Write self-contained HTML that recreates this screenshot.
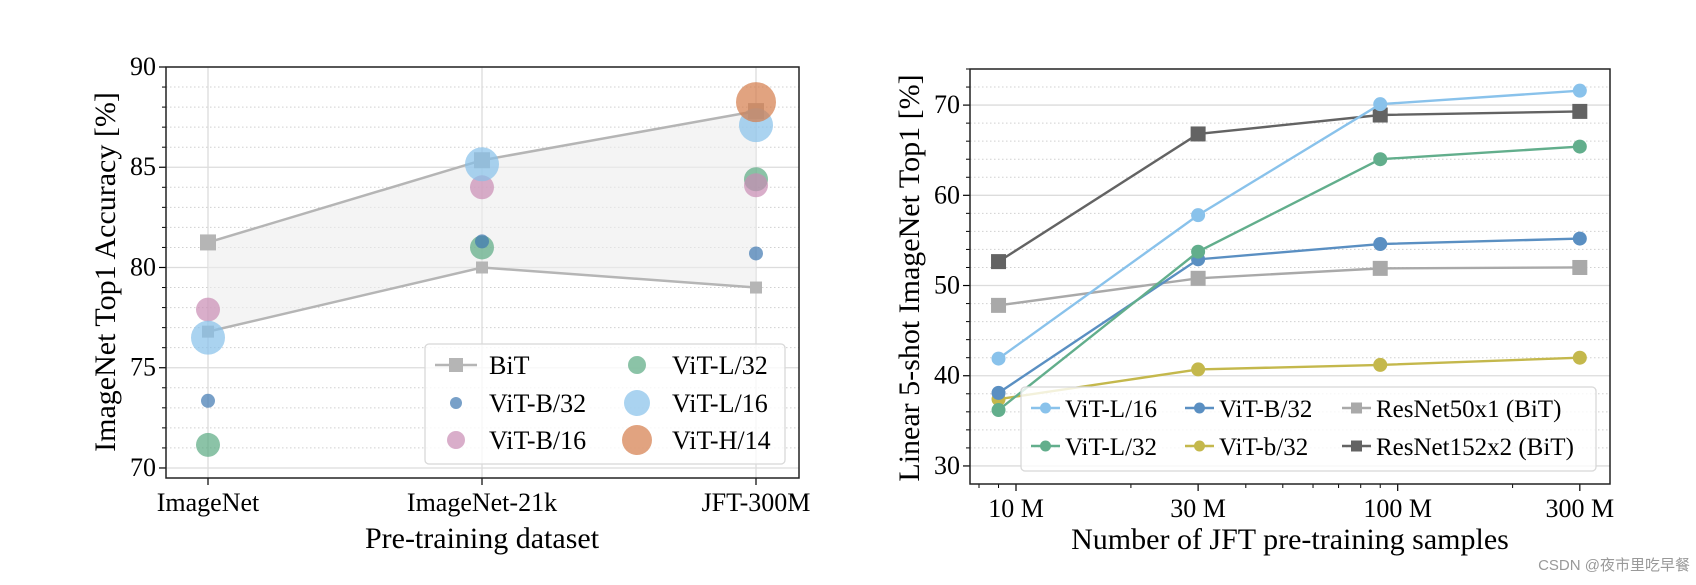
<!DOCTYPE html>
<html><head><meta charset="utf-8"><style>
html,body{margin:0;padding:0;background:#fff;}
svg{display:block;font-family:"Liberation Serif",serif;}
</style></head><body>
<svg id="chart" width="1696" height="585" viewBox="0 0 1696 585" xmlns="http://www.w3.org/2000/svg">
<g id="left"></g>
<g id="right"></g>
<text x="1690" y="570" text-anchor="end" font-size="15" fill="#999" font-family="Liberation Sans, Noto Sans CJK SC, sans-serif">CSDN @夜市里吃早餐</text>
</svg>
<script>
// ---- Left chart data ----
const datasets = ["ImageNet","ImageNet-21k","JFT-300M"];
const bitUpper = [81.25, 85.35, 87.8];
const bitLower = [76.8, 80.0, 79.0];
const vitB32 = [73.35, 81.3, 80.7];
const vitB16 = [77.9, 84.0, 84.1];
const vitL32 = [71.15, 81.0, 84.4];
const vitL16 = [76.5, 85.15, 87.1];
const vitH14 = [null, null, 88.25];
const leftTicks = [70,75,80,85,90];
// ---- Right chart data ----
const samples = [9, 30, 90, 300];
const sampleTickVals = [10, 30, 100, 300];
const sampleTickLabels = ["10 M","30 M","100 M","300 M"];
const rVitL16 = [41.9, 57.8, 70.1, 71.6];
const rVitL32 = [36.2, 53.75, 64.0, 65.4];
const rVitB32 = [38.1, 52.9, 54.6, 55.2];
const rVitb32 = [37.4, 40.7, 41.2, 42.0];
const rRes50 = [47.8, 50.8, 51.9, 52.0];
const rRes152 = [52.65, 66.8, 68.9, 69.3];
const rightTicks = [30,40,50,60,70];

const NS="http://www.w3.org/2000/svg";
function mk(parent,tag,attrs,text){const e=document.createElementNS(NS,tag);for(const k in attrs)e.setAttribute(k,attrs[k]);if(text!==undefined)e.textContent=text;parent.appendChild(e);return e;}

// ===== LEFT =====
(function(){
const g=document.getElementById('left');
const L=166,R=799,T=67,B=478, ymin=69.5, ymax=90;
const y=v=>T+(ymax-v)*(B-T)/(ymax-ymin);
const x=i=>208+i*274;
for(let v=70;v<=90;v++){ if(v%5===0)continue;
 const l=mk(g,'line',{x1:L,x2:R,y1:y(v),y2:y(v),stroke:'#d0d0d0','stroke-width':1,'stroke-dasharray':'1.5,2.5'});
 
 const t=mk(g,'line',{x1:L-4,x2:L,y1:y(v),y2:y(v),stroke:'#000','stroke-width':1});
 }
leftTicks.forEach(v=>{
 const l=mk(g,'line',{x1:L,x2:R,y1:y(v),y2:y(v),stroke:'#dcdcdc','stroke-width':1.3});
 
 mk(g,'line',{x1:L-7,x2:L,y1:y(v),y2:y(v),stroke:'#000','stroke-width':1.2});
 const t=mk(g,'text',{x:L-10,y:y(v)+8,'text-anchor':'end','font-size':26},String(v));
 });
datasets.forEach((d,i)=>{
 const l=mk(g,'line',{x1:x(i),x2:x(i),y1:T,y2:B,stroke:'#dcdcdc','stroke-width':1.3});
 
 mk(g,'line',{x1:x(i),x2:x(i),y1:B,y2:B+7,stroke:'#000','stroke-width':1.2});
 const t=mk(g,'text',{x:x(i),y:511,'text-anchor':'middle','font-size':26},d);
 });
let pts=bitUpper.map((v,i)=>x(i)+','+y(v)).concat(bitLower.map((v,i)=>x(i)+','+y(v)).reverse());
const f=mk(g,'polygon',{points:pts.join(' '),fill:'#ececec','fill-opacity':0.6});

[bitUpper,bitLower].forEach((arr,k)=>{
 const p=mk(g,'polyline',{points:arr.map((v,i)=>x(i)+','+y(v)).join(' '),fill:'none',stroke:'#b5b5b5','stroke-width':2.5});
 
 arr.forEach((v,i)=>{const s=k?12:16;
  const r=mk(g,'rect',{x:x(i)-s/2,y:y(v)-s/2,width:s,height:s,fill:'#b5b5b5'});
  });});
const series=[[vitL32,'#5aa982',12,'vit-l32'],[vitB16,'#c98bb4',12,'vit-b16'],[vitL16,'#86c0ea',17,'vit-l16'],[vitB32,'#3f78b0',7,'vit-b32'],[vitH14,'#d47c4a',20,'vit-h14']];
series.forEach(([arr,c,r,n])=>arr.forEach((v,i)=>{ if(v===null)return;
 const ci=mk(g,'circle',{cx:x(i),cy:y(v),r:r,fill:c,'fill-opacity':0.7});
 }));
const lg=mk(g,'g',{});

mk(lg,'rect',{x:425,y:344,width:360,height:120,rx:4,fill:'#fff','fill-opacity':0.8,stroke:'#d8d8d8','stroke-width':1.3});
const items=[['BiT',null,0,456,365],['ViT-B/32','#3f78b0',6,456,403],['ViT-B/16','#c98bb4',9,456,440],['ViT-L/32','#5aa982',9,637,365],['ViT-L/16','#86c0ea',13,637,403],['ViT-H/14','#d47c4a',15,637,440]];
items.forEach(([t,c,r,cx,cy],k)=>{
 const e=mk(lg,'g',{});
 
 if(c===null){mk(e,'line',{x1:435,x2:477,y1:cy,y2:cy,stroke:'#b5b5b5','stroke-width':2.5});mk(e,'rect',{x:cx-7,y:cy-7,width:14,height:14,fill:'#b5b5b5'});}
 else mk(e,'circle',{cx:cx,cy:cy,r:r,fill:c,'fill-opacity':0.7});
 mk(e,'text',{x:k<3?489:672,y:cy+9,'font-size':26},t);});
mk(g,'rect',{x:L,y:T,width:R-L,height:B-T,fill:'none',stroke:'#222','stroke-width':1.5});
const yl=mk(g,'text',{x:0,y:0,'text-anchor':'middle','font-size':30,transform:'translate(115,272) rotate(-90)'},'ImageNet Top1 Accuracy [%]');

const xl=mk(g,'text',{x:482,y:548,'text-anchor':'middle','font-size':30},'Pre-training dataset');

})();

// ===== RIGHT =====
(function(){
const g=document.getElementById('right');
const L=970,R=1610,T=69,B=484, ymin=28, ymax=74;
const y=v=>T+(ymax-v)*(B-T)/(ymax-ymin);
const x=v=>1016+381.7*Math.log10(v/10);
for(let v=30;v<=74;v+=2){ if(v%10===0)continue;
 const l=mk(g,'line',{x1:L,x2:R,y1:y(v),y2:y(v),stroke:'#d0d0d0','stroke-width':1,'stroke-dasharray':'1.5,2.5'});
 
 mk(g,'line',{x1:L-4,x2:L,y1:y(v),y2:y(v),stroke:'#000','stroke-width':1});}
rightTicks.forEach(v=>{
 const l=mk(g,'line',{x1:L,x2:R,y1:y(v),y2:y(v),stroke:'#dcdcdc','stroke-width':1.3});
 
 mk(g,'line',{x1:L-7,x2:L,y1:y(v),y2:y(v),stroke:'#000','stroke-width':1.2});
 const t=mk(g,'text',{x:L-10,y:y(v)+8,'text-anchor':'end','font-size':26},String(v));
 });
[8,9,20,40,50,60,70,80,90,200].forEach(v=>{const px=x(v); if(px<L||px>R)return;
 mk(g,'line',{x1:px,x2:px,y1:B,y2:B+4,stroke:'#000','stroke-width':1});});
sampleTickVals.forEach((v,i)=>{
 mk(g,'line',{x1:x(v),x2:x(v),y1:B,y2:B+7,stroke:'#000','stroke-width':1.2});
 const t=mk(g,'text',{x:x(v),y:517,'text-anchor':'middle','font-size':26},sampleTickLabels[i]);
 });
const series=[[rRes50,'#a9a9a9','sq','resnet50x1'],[rRes152,'#636363','sq','resnet152x2'],[rVitb32,'#c4b84c','c','vit-b32-small'],[rVitB32,'#5a8fc2','c','vit-b32'],[rVitL32,'#62ae8c','c','vit-l32'],[rVitL16,'#89c2eb','c','vit-l16']];
series.forEach(([arr,c,m,n])=>{
 const p=mk(g,'polyline',{points:arr.map((v,i)=>x(samples[i])+','+y(v)).join(' '),fill:'none',stroke:c,'stroke-width':2.4});
 
 arr.forEach((v,i)=>{let e;
  if(m==='sq')e=mk(g,'rect',{x:x(samples[i])-7.5,y:y(v)-7.5,width:15,height:15,fill:c});
  else e=mk(g,'circle',{cx:x(samples[i]),cy:y(v),r:7,fill:c});
  });});
const lg=mk(g,'g',{});

mk(lg,'rect',{x:1021,y:387,width:575,height:84,rx:4,fill:'#fff','fill-opacity':0.8,stroke:'#d8d8d8','stroke-width':1.3});
const items=[['ViT-L/16','#89c2eb','c',1031,408],['ViT-L/32','#62ae8c','c',1031,446],['ViT-B/32','#5a8fc2','c',1185,408],['ViT-b/32','#c4b84c','c',1185,446],['ResNet50x1 (BiT)','#a9a9a9','sq',1342,408],['ResNet152x2 (BiT)','#636363','sq',1342,446]];
items.forEach(([t,c,m,hx,cy])=>{
 const e=mk(lg,'g',{});
 
 mk(e,'line',{x1:hx,x2:hx+29,y1:cy,y2:cy,stroke:c,'stroke-width':2.4});
 if(m==='sq')mk(e,'rect',{x:hx+9,y:cy-5.5,width:11,height:11,fill:c});
 else mk(e,'circle',{cx:hx+14.5,cy:cy,r:5.5,fill:c});
 mk(e,'text',{x:hx+34,y:cy+9,'font-size':25},t);});
mk(g,'rect',{x:L,y:T,width:R-L,height:B-T,fill:'none',stroke:'#222','stroke-width':1.5});
const yl=mk(g,'text',{x:0,y:0,'text-anchor':'middle','font-size':30,transform:'translate(919,278) rotate(-90)'},'Linear 5-shot ImageNet Top1 [%]');

const xl=mk(g,'text',{x:1290,y:549,'text-anchor':'middle','font-size':30},'Number of JFT pre-training samples');

})();
</script>
</body></html>
